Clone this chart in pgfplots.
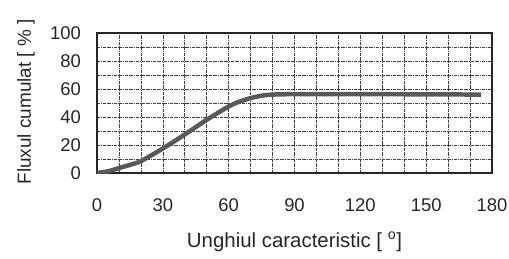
\documentclass[border=0pt]{standalone}
\usepackage{fontspec}
\setmainfont{Liberation Sans}
\usepackage{pgfplots}
\pgfplotsset{compat=1.18}
\begin{document}
\begin{tikzpicture}
\begin{axis}[
  scale only axis,
  width=395bp, height=140bp,
  xmin=0, xmax=180, ymin=0, ymax=100,
  xtick={0,30,...,180},
  ytick={0,20,...,100},
  minor xtick={10,20,40,50,70,80,100,110,130,140,160,170},
  minor ytick={10,30,50,70,90},
  grid=both,
  major grid style={black!75, line width=0.6pt, densely dash dot},
  minor grid style={black!75, line width=0.6pt, densely dash dot},
  major tick length=0pt, minor tick length=0pt,
  axis line style={black!85, line width=1.4pt},
  /pgf/number format/assume math mode=true,
  tick label style={font=\fontsize{18.5}{22}\selectfont, text=black!85},
  xticklabel style={anchor=north, inner sep=0pt, yshift=-25bp},
  yticklabel style={anchor=east, inner sep=0pt, xshift=-16bp},
  xlabel={Unghiul caracteristic [ \textsuperscript{o}]},
  xlabel style={at={(rel axis cs:0.5,0)}, anchor=center, yshift=-69bp, font=\fontsize{20.5}{24}\selectfont, text=black!85},
  ylabel={Fluxul cumulat [ \% ]},
  ylabel style={at={(axis cs:-32.4,-10.7)}, anchor=west, rotate=0, font=\fontsize{19}{22}\selectfont, text=black!85},
]
\addplot[color=black!65, line width=4.5pt, smooth, tension=0.5] coordinates {
  (0,0) (5,1.2) (10,3.5) (15,5.8) (20,8.5) (30,17.5) (40,27.5) (50,38) (60,47.5) (65,51) (70,53.5) (75,55.2) (80,56) (90,56.3) (120,56.3) (150,56.2) (175,56)
};
\end{axis}
\pgfresetboundingbox
\useasboundingbox (-97bp,-86bp) rectangle (412bp,173bp);
\end{tikzpicture}
\end{document}
